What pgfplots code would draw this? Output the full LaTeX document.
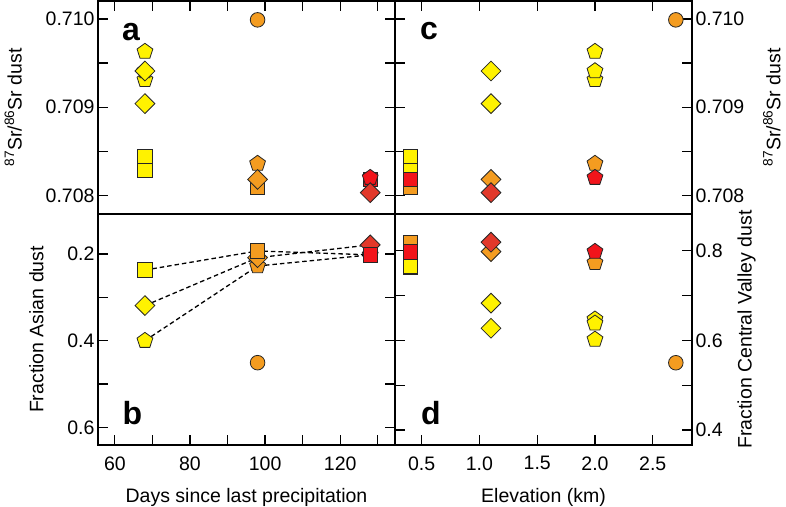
\documentclass[border=0pt]{standalone}
\usepackage{pgfplots}
\pgfplotsset{compat=1.18}
\usepackage{fontspec}
\setmainfont{Liberation Sans}
\newcommand\fs{\fontsize{19.5}{22}\selectfont}
\definecolor{cy}{HTML}{FFF200}
\definecolor{co}{HTML}{F49C20}
\definecolor{cr}{HTML}{F2141B}
\definecolor{crd}{HTML}{E2382A}
\definecolor{edge}{HTML}{262626}
\tikzset{letter/.style={anchor=base west, inner sep=0pt, font=\bfseries\fontsize{32}{32}\selectfont}}
\pgfplotsset{
  panel/.style={
    scale only axis, width=297pt, clip=false,
    axis line style={line width=1.2pt},
    tick align=inside,
    major tick length=10pt, minor tick length=10pt,
    every tick/.style={black, line width=1.2pt},
    every minor tick/.style={black, line width=1.2pt},
    tick label style={font=\fs},
    label style={font=\fs},
    /pgf/number format/assume math mode=true,
    scaled ticks=false,
    xticklabel shift=8pt, xlabel shift=11pt,
  },
  sq/.style={only marks, mark=square*, mark size=7.2pt, mark options={draw=edge, line width=0.8pt, fill=#1}},
  pe/.style={only marks, mark=pentagon*, mark size=8.3pt, mark options={draw=edge, line width=0.8pt, fill=#1}},
  di/.style={only marks, mark=square*, mark size=7pt, mark options={draw=edge, line width=0.8pt, fill=#1, rotate=45}},
  ci/.style={only marks, mark=*, mark size=7.3pt, mark options={draw=edge, line width=0.8pt, fill=#1}},
  dl/.style={black, line width=1.3pt, dash pattern=on 4.5pt off 3pt},
}
\begin{document}
\begin{tikzpicture}
\path[use as bounding box] (-98pt,1pt) rectangle (688pt,-505pt);
% ---------- panel a ----------
\begin{axis}[panel, at={(0pt,0pt)}, anchor=north west, height=213pt,
  xmin=55.5, xmax=134.6, ymin=0.707788, ymax=0.710204,
  xtick={60,80,100,120}, minor xtick={70,90,110,130},
  xtick pos=right, xticklabels={},
  ytick={0.708,0.709,0.710}, yticklabels={0.708,0.709,0.710},
  minor ytick={0.7085,0.7095}, ytick pos=both, yticklabel pos=left,
  ylabel shift=17pt,
  ylabel={\textsuperscript{87}Sr/\textsuperscript{86}Sr dust}]
\addplot[sq=co] coordinates {(98,0.70809)};
\addplot[sq=cy] coordinates {(68,0.70829)};
\addplot[sq=cy] coordinates {(68,0.70844)};
\addplot[sq=cr] coordinates {(128,0.70818)};
\addplot[pe=cy] coordinates {(68,0.70931) (68,0.70941) (68,0.70963)};
\addplot[pe=co] coordinates {(98,0.70836)};
\addplot[pe=cr] coordinates {(128,0.70820)};
\addplot[di=cy] coordinates {(68,0.70941) (68,0.70904)};
\addplot[di=co] coordinates {(98,0.70818)};
\addplot[di=crd] coordinates {(128,0.70803)};
\addplot[ci=co] coordinates {(98,0.70999)};
\node[letter] at ([xshift=24pt,yshift=-39pt]axis description cs:0,1) {a};
\end{axis}
% ---------- panel c ----------
\begin{axis}[panel, at={(297pt,0pt)}, anchor=north west, height=213pt,
  xmin=0.269, xmax=2.840, ymin=0.707788, ymax=0.710204,
  xtick={0.5,1,1.5,2,2.5}, xtick pos=right, xticklabels={},
  ytick={0.708,0.709,0.710}, yticklabels={0.708,0.709,0.710},
  minor ytick={0.7085,0.7095}, ytick pos=both, yticklabel pos=right,
  ylabel shift=12pt,
  ylabel={\textsuperscript{87}Sr/\textsuperscript{86}Sr dust}]
\addplot[sq=co] coordinates {(0.4,0.70809)};
\addplot[sq=cy] coordinates {(0.4,0.70829)};
\addplot[sq=cy] coordinates {(0.4,0.70844)};
\addplot[sq=cr] coordinates {(0.4,0.70818)};
\addplot[pe=cy] coordinates {(2.0,0.70931) (2.0,0.70941) (2.0,0.70963)};
\addplot[pe=co] coordinates {(2.0,0.70836)};
\addplot[pe=cr] coordinates {(2.0,0.70820)};
\addplot[di=cy] coordinates {(1.1,0.70941) (1.1,0.70904)};
\addplot[di=co] coordinates {(1.1,0.70818)};
\addplot[di=crd] coordinates {(1.1,0.70803)};
\addplot[ci=co] coordinates {(2.7,0.70999)};
\node[letter] at ([xshift=25pt,yshift=-38pt]axis description cs:0,1) {c};
\end{axis}
% ---------- panel b ----------
\begin{axis}[panel, at={(0pt,-213pt)}, anchor=north west, height=231pt,
  xmin=55.5, xmax=134.6, ymin=0.1077, ymax=0.6408, y dir=reverse,
  xtick={60,80,100,120}, xticklabels={60,80,100,120}, minor xtick={70,90,110,130},
  xtick pos=left,
  ytick={0.2,0.4,0.6}, yticklabels={0.2,0.4,0.6}, minor ytick={0.3,0.5},
  ytick pos=both, yticklabel pos=left,
  ylabel shift=17pt,
  xlabel={Days since last precipitation}, ylabel={Fraction Asian dust}]
\addplot[dl] coordinates {(68,0.237) (98,0.193) (128,0.202)};
\addplot[dl] coordinates {(68,0.319) (98,0.2085) (128,0.179)};
\addplot[dl] coordinates {(68,0.400) (98,0.2277) (128,0.202)};
\addplot[pe=cy] coordinates {(68,0.400)};
\addplot[pe=co] coordinates {(98,0.2277)};
\addplot[pe=cr] coordinates {(128,0.202)};
\addplot[di=cy] coordinates {(68,0.319)};
\addplot[di=co] coordinates {(98,0.2085)};
\addplot[di=crd] coordinates {(128,0.179)};
\addplot[sq=cy] coordinates {(68,0.237)};
\addplot[sq=co] coordinates {(98,0.193)};
\addplot[sq=cr] coordinates {(128,0.202)};
\addplot[ci=co] coordinates {(98,0.4508)};
\node[letter] at ([xshift=24.5pt,yshift=20.3pt]axis description cs:0,0) {b};
\end{axis}
% ---------- panel d ----------
\begin{axis}[panel, at={(297pt,-213pt)}, anchor=north west, height=231pt,
  xmin=0.269, xmax=2.840, ymin=0.3665, ymax=0.8819,
  xtick={0.5,1,1.5,2,2.5}, xticklabels={0.5,1.0,1.5,2.0,2.5}, xtick pos=left,
  ytick={0.4,0.6,0.8}, yticklabels={0.4,0.6,0.8}, minor ytick={0.5,0.7},
  ytick pos=both, yticklabel pos=right,
  ylabel shift=8pt,
  xlabel={Elevation (km)}, ylabel={Fraction Central Valley dust}]
\addplot[sq=co] coordinates {(0.4,0.817)};
\addplot[sq=cr] coordinates {(0.4,0.797)};
\addplot[sq=cy] coordinates {(0.4,0.763) (0.4,0.765)};
\addplot[pe=cy] coordinates {(2.0,0.647) (2.0,0.638) (2.0,0.602)};
\addplot[pe=co] coordinates {(2.0,0.773)};
\addplot[pe=cr] coordinates {(2.0,0.798)};
\addplot[di=cy] coordinates {(1.1,0.683) (1.1,0.627)};
\addplot[di=co] coordinates {(1.1,0.798)};
\addplot[di=crd] coordinates {(1.1,0.819)};
\addplot[ci=co] coordinates {(2.7,0.550)};
\node[letter] at ([xshift=26pt,yshift=20.5pt]axis description cs:0,0) {d};
\end{axis}
\end{tikzpicture}
\end{document}
